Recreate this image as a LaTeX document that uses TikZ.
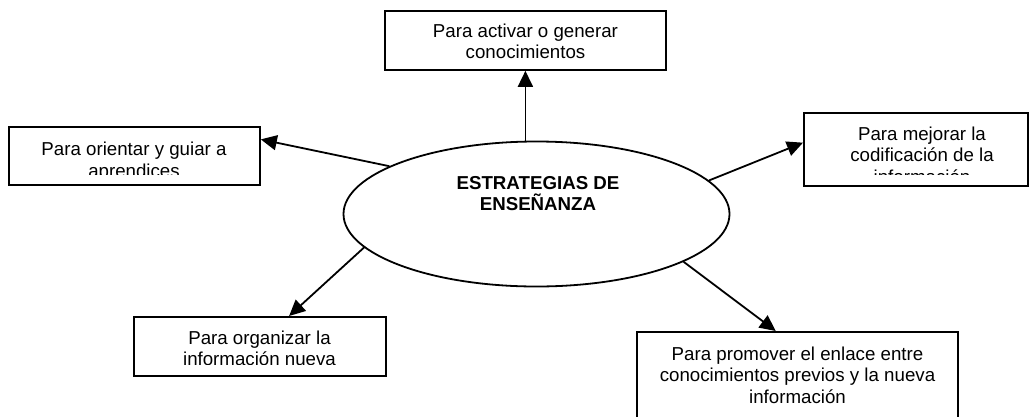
\documentclass[tikz,border=0pt]{standalone}
\usepackage{fontspec}
\setmainfont{Liberation Sans}
\usetikzlibrary{arrows.meta,shapes.geometric,calc}
\begin{document}
\begin{tikzpicture}[x=1pt,y=-1pt,
  box/.style={draw,line width=1.8pt,inner sep=0pt,anchor=north west},
  lbl/.style={anchor=north,inner sep=0pt,align=center,font=\fontsize{18.7}{21.5}\selectfont},
  arr/.style={line width=1.8pt,-{Triangle[length=16pt,width=15pt]}}]
\useasboundingbox (0,0) rectangle (1029,416);
\clip (0,0) rectangle (1029,416);

% boxes
\node[box,minimum width=281pt,minimum height=59pt] (tb) at (384,10) {};
\node[box,minimum width=251pt,minimum height=58pt] (lb) at (8,126) {};
\node[box,minimum width=224pt,minimum height=73pt] (rb) at (803,112) {};
\node[box,minimum width=252pt,minimum height=59pt] (blb) at (133,316) {};
\node[box,minimum width=321pt,minimum height=110pt] (brb) at (636,331) {};

% centre ellipse
\node[draw,ellipse,line width=1.8pt,minimum width=386pt,minimum height=145pt,inner sep=0pt] (ell) at (536.5,214) {};
\node[lbl,font=\fontsize{18.7}{21}\selectfont\bfseries] (etxt) at (538,176.5) {ESTRATEGIAS DE\\ENSEÑANZA};

% texts (clipped like the original text boxes)
\begin{scope}
\clip (tb.north west) rectangle ($(tb.south east)+(0,-12.5)$);
\node[lbl] (tbt) at (525.5,23.5) {Para activar o generar\\conocimientos};
\end{scope}
\begin{scope}
\clip (lb.north west) rectangle ($(lb.south east)+(0,-11)$);
\node[lbl] (lbt) at (134,142) {Para orientar y guiar a\\aprendices};
\end{scope}
\begin{scope}
\clip (rb.north west) rectangle ($(rb.south east)+(0,-12.5)$);
\node[lbl] (rbt) at (922,126.5) {Para mejorar la\\codificación de la\\información};
\end{scope}
\begin{scope}
\clip (blb.north west) rectangle ($(blb.south east)+(0,-12.5)$);
\node[lbl] (blbt) at (259.5,330.5) {Para organizar la\\información nueva};
\end{scope}
\node[lbl] (brbt) at (797.5,346.5) {Para promover el enlace entre\\conocimientos previos y la nueva\\información};

% connectors
\draw[arr] (tb.south |- ell.north) -- (tb.south);
\draw[arr] (ell.162.8) -- ($(lb.north east)!0.224!(lb.south east)$);
\draw[arr] (ell.11.2) -- ($(rb.north west)!0.41!(rb.south west)$);
\draw[arr] (ell.191.4) -- ($(blb.north west)!0.615!(blb.north east)$);
\draw[arr] (ell.342.5) -- ($(brb.north west)!0.433!(brb.north east)$);
\end{tikzpicture}
\end{document}
